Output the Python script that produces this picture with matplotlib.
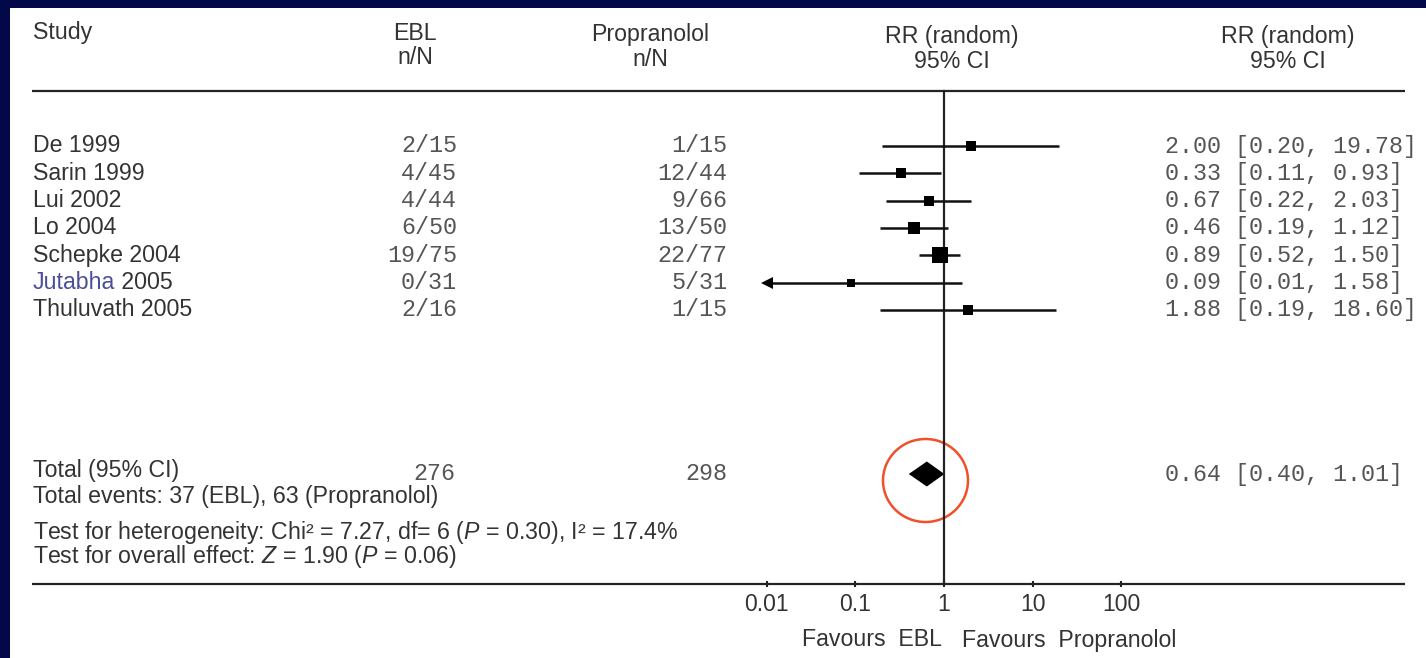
import numpy as np
import matplotlib.pyplot as plt
from matplotlib.patches import Rectangle, Ellipse

plt.rcParams['font.family'] = ['Liberation Sans', 'DejaVu Sans']
plt.rcParams['mathtext.fontset'] = 'custom'
plt.rcParams['mathtext.rm'] = 'Liberation Sans'
plt.rcParams['mathtext.it'] = 'Liberation Sans:italic'

# ---------------------------------------------------------------- data
studies = ["De 1999", "Sarin 1999", "Lui 2002", "Lo 2004", "Schepke 2004",
           "Jutabha 2005", "Thuluvath 2005"]
ebl = ["2/15", "4/45", "4/44", "6/50", "19/75", "0/31", "2/16"]
prop = ["1/15", "12/44", "9/66", "13/50", "22/77", "5/31", "1/15"]
rr = [2.00, 0.33, 0.67, 0.46, 0.89, 0.09, 1.88]
lo = [0.20, 0.11, 0.22, 0.19, 0.52, 0.01, 0.19]
hi = [19.78, 0.93, 2.03, 1.12, 1.50, 1.58, 18.60]
weight = [9, 9, 9, 11, 15, 8, 9]          # box size ~ study weight

total_ebl, total_prop = "276", "298"
rr_tot, lo_tot, hi_tot = 0.64, 0.40, 1.01

ticks = [0.01, 0.1, 1, 10, 100]
tick_labels = ["0.01", "0.1", "1", "10", "100"]

notes = ["Total events: 37 (EBL), 63 (Propranolol)",
         r"Test for heterogeneity: Chi² = 7.27, df= 6 ($P$ = 0.30), I² = 17.4%",
         r"Test for overall effect: $Z$ = 1.90 ($P$ = 0.06)"]

# ---------------------------------------------------------------- layout (pixels)
W, H = 1426, 658
navy = '#020848'
txt = '#333333'
mono = '#555555'
y_axis = 584
y_top = 91
row0, drow = 146, 27.3
y_rows = row0 + drow * np.arange(len(studies))
y_tot = 474

fig = plt.figure(figsize=(W / 100, H / 100), dpi=100, facecolor=navy)
tab = fig.add_axes([0, 0, 1, 1])
tab.set_xlim(0, W)
tab.set_ylim(H, 0)
tab.axis('off')
tab.add_patch(Rectangle((10, 8), W - 10, H - 8, facecolor='white', edgecolor='none'))

# forest axes: log x, y in pixels
one_px, dec_px = 944, 88.6
lg = 2.3
L = one_px - lg * dec_px
R = one_px + lg * dec_px
ax = fig.add_axes([L / W, (H - y_axis) / H, (R - L) / W, y_axis / H])
ax.set_xscale('log')
ax.set_xlim(10 ** -lg, 10 ** lg)
ax.set_ylim(y_axis, 0)
ax.patch.set_alpha(0)
for s in ax.spines.values():
    s.set_visible(False)
ax.set_yticks([])
ax.set_xticks(ticks)
ax.set_xticklabels(tick_labels)
ax.minorticks_off()
ax.tick_params(axis='x', direction='inout', length=5, width=1.5, color='#222',
               labelsize=16.5, labelcolor=txt, pad=4)

# header
hs = 16.7
tab.text(33, 32, "Study", fontsize=hs, color=txt, va='center')
tab.text(415, 33, "EBL", fontsize=hs, color=txt, va='center', ha='center')
tab.text(415, 58, "n/N", fontsize=hs, color=txt, va='center', ha='center')
tab.text(650, 35, "Propranolol", fontsize=hs, color=txt, va='center', ha='center')
tab.text(650, 60, "n/N", fontsize=hs, color=txt, va='center', ha='center')
for xc in (952, 1288):
    tab.text(xc, 36, "RR (random)", fontsize=hs, color=txt, va='center', ha='center')
    tab.text(xc, 62, "95% CI", fontsize=hs, color=txt, va='center', ha='center')

tab.plot([32, 1405], [y_top, y_top], color='#222', lw=1.6, solid_capstyle='butt')
tab.plot([32, 1405], [y_axis, y_axis], color='#222', lw=1.6, solid_capstyle='butt')
ax.plot([1, 1], [y_top, y_axis], color='#222', lw=1.6, clip_on=False)

# study rows
ms = 16.8
for i, y in enumerate(y_rows):
    if studies[i].startswith("Jutabha"):
        # scanned original shows the name tinted blue
        name, year = studies[i].split()
        t = tab.text(33, y, name, fontsize=hs, color='#4a4f98', va='center')
        tab.annotate(" " + year, xy=(1, 0.5), xycoords=t, fontsize=hs, color=txt,
                     va='center', ha='left')
    else:
        tab.text(33, y, studies[i], fontsize=hs, color=txt, va='center')
    tab.text(457, y, ebl[i], fontsize=ms, family='Liberation Mono', color=mono,
             va='center', ha='right')
    tab.text(727, y, prop[i], fontsize=ms, family='Liberation Mono', color=mono,
             va='center', ha='right')
    tab.text(1165, y, f"{rr[i]:.2f} [{lo[i]:.2f}, {hi[i]:.2f}]", fontsize=ms,
             family='Liberation Mono', color=mono, va='center', ha='left')
    ax.plot([lo[i], hi[i]], [y, y], color='#111', lw=1.8, solid_capstyle='butt')
    ax.plot(rr[i], y, marker='s', color='black', ms=weight[i] * 0.75, mew=0)
    if lo[i] <= 0.01:
        ax.plot(lo[i], y, marker='<', color='black', ms=9, mew=0)

# total row
tab.text(33, 471, "Total (95% CI)", fontsize=hs, color=txt, va='center')
tab.text(455, y_tot, total_ebl, fontsize=ms, family='Liberation Mono', color=mono,
         va='center', ha='right')
tab.text(727, y_tot, total_prop, fontsize=ms, family='Liberation Mono', color=mono,
         va='center', ha='right')
tab.text(1165, y_tot, f"{rr_tot:.2f} [{lo_tot:.2f}, {hi_tot:.2f}]", fontsize=ms,
         family='Liberation Mono', color=mono, va='center', ha='left')
ax.fill([lo_tot, rr_tot, hi_tot, rr_tot], [y_tot, y_tot - 12.5, y_tot, y_tot + 12.5],
        color='black', lw=0)
tab.add_patch(Ellipse((925.5, 480.5), 85, 83, facecolor='none', edgecolor='#f0502a', lw=1.8))

for y, s in zip([497, 532, 557], notes):
    tab.text(33, y, s, fontsize=hs, color=txt, va='center')

tab.text(942, 640, "Favours  EBL", fontsize=hs, color=txt, va='center', ha='right')
tab.text(962, 640, "Favours  Propranolol", fontsize=hs, color=txt, va='center', ha='left')

fig.savefig("out.png", dpi=100, facecolor=navy)
